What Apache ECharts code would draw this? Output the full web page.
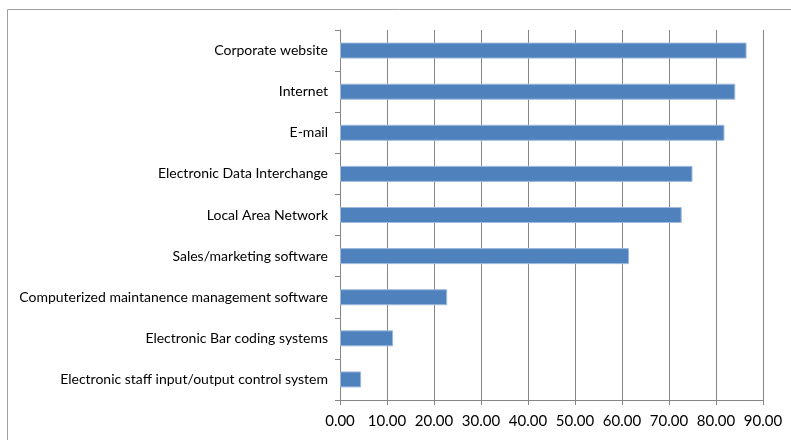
<!DOCTYPE html>
<html>
<head>
<meta charset="utf-8">
<script src="https://cdn.jsdelivr.net/npm/echarts@6/dist/echarts.min.js"></script>
<style>
  html, body { margin: 0; padding: 0; background: #fff; }
  #chart { width: 791px; height: 440px; }
</style>
</head>
<body>
<div id="chart"></div>
<script>
// categories, top to bottom
const categories = [
  'Corporate website',
  'Internet',
  'E-mail',
  'Electronic Data Interchange',
  'Local Area Network',
  'Sales/marketing software',
  'Computerized maintanence management software',
  'Electronic Bar coding systems',
  'Electronic staff input/output control system'
]
const values = [86.5, 84.1, 81.8, 75.0, 72.7, 61.5, 22.8, 11.3, 4.5]
const axisMin = 0
const axisMax = 90
const axisStep = 10

const chart = echarts.init(document.getElementById('chart'))
const gray = '#868686'
const font = 'Lato, "Open Sans", sans-serif'

chart.setOption({
  animation: false,
  textStyle: { fontFamily: font },
  // outer frame of the chart area
  graphic: [{
    type: 'rect',
    shape: { x: 7.5, y: 9.5, width: 800, height: 440 },
    style: { fill: 'none', stroke: '#a0a0a0', lineWidth: 1 },
    silent: true
  }],
  grid: { left: 340, right: 28, top: 30, bottom: 40 },
  xAxis: {
    type: 'value',
    min: axisMin,
    max: axisMax,
    interval: axisStep,
    axisLine: { show: true, lineStyle: { color: gray } },
    axisTick: { show: true, length: 5, lineStyle: { color: gray } },
    axisLabel: {
      color: '#000',
      fontSize: 15,
      fontFamily: font,
      margin: 14,
      formatter: v => v.toFixed(2)
    },
    splitLine: { show: true, lineStyle: { color: gray, width: 1 } }
  },
  yAxis: {
    type: 'category',
    inverse: true,
    data: categories,
    axisLine: { show: true, lineStyle: { color: gray } },
    axisTick: { show: true, length: 5, lineStyle: { color: gray } },
    axisLabel: { color: '#000', fontSize: 14, fontFamily: font, margin: 12 }
  },
  series: [{
    type: 'bar',
    data: values,
    barWidth: 16,
    itemStyle: { color: '#4F81BD', borderColor: '#9fb9dc', borderWidth: 1 }
  }]
})
</script>
</body>
</html>
